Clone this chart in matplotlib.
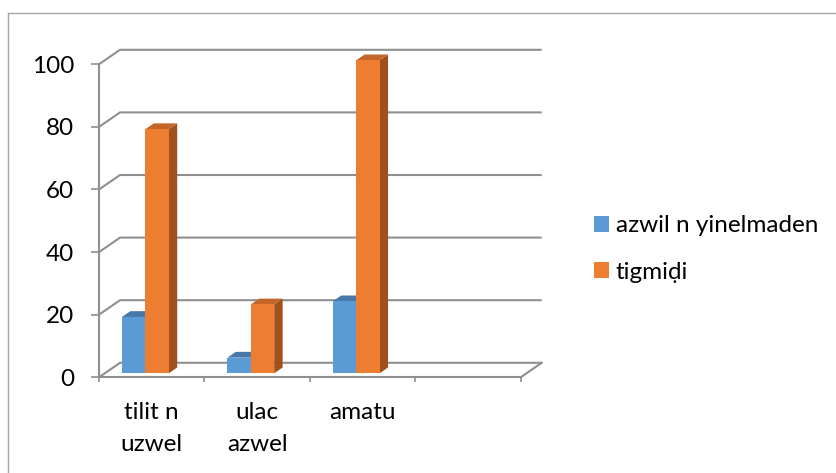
import matplotlib
matplotlib.use("Agg")
import matplotlib.pyplot as plt
from matplotlib.patches import Polygon, Patch
from matplotlib.lines import Line2D
from matplotlib.transforms import ScaledTranslation

categories = ["tilit n\nuzwel", "ulac\nazwel", "amatu", ""]
series_names = ["azwil n yinelmaden", "tigmiḍi"]
blue_values = [18, 5, 23]
orange_values = [78, 22, 100]
y_ticks = [0, 20, 40, 60, 80, 100]

front_colors = ["#5B9BD5", "#ED7D31"]
top_colors = ["#4778A8", "#C4652A"]
side_colors = ["#3D6893", "#A0501D"]

plt.rcParams['font.family'] = ['Lato', 'DejaVu Sans']
FS = 17.5

W, H = 837, 473
fig = plt.figure(figsize=(W / 100, H / 100), dpi=100)
fig.patch.set_facecolor("white")

# axes: front plane
x0p, x1p = 99, 520.7
y0p, y100p = 377.3, 64.3
ax = fig.add_axes([x0p / W, 1 - y0p / H, (x1p - x0p) / W, (y0p - y100p) / H])
ax.set_xlim(0, 4)
ax.set_ylim(0, 100)
ax.patch.set_alpha(0)
for s in ["top", "right"]:
    ax.spines[s].set_visible(False)
grid_col = "#8F8F8F"
ax.spines["left"].set_color(grid_col)
ax.spines["bottom"].set_color(grid_col)
ax.spines["left"].set_linewidth(1.5)
ax.spines["bottom"].set_linewidth(1.5)

ppu_x = (x1p - x0p) / 4.0
ppu_y = (y0p - y100p) / 100.0

# depth offsets (pixels)
DX, DY = 21.0, 14.5

def off(frac):
    return DX * frac / ppu_x, DY * frac / ppu_y

# back wall gridlines + side wall diagonals
bx, by = off(1.0)
for v in y_ticks:
    ax.plot([0, bx, 4 + bx], [v, v + by, v + by], color=grid_col, lw=1.5,
            solid_capstyle="butt", clip_on=False, zorder=1)
# floor right diagonal
ax.plot([4, 4 + bx], [0, by], color=grid_col, lw=1.5, clip_on=False, zorder=1)

# ticks
ax.set_yticks(y_ticks)
ax.tick_params(axis="y", direction="out", length=5.8, width=1.2, color=grid_col,
               labelsize=FS, pad=12, labelcolor="#000000")
ax.set_xticks([0, 1, 2, 3, 4])
ax.set_xticklabels([])
ax.tick_params(axis="x", which="major", direction="out", length=3.6, width=1.2,
               color=grid_col)
ax.set_xticks([0.5, 1.5, 2.5, 3.5], minor=True)
ax.set_xticklabels(categories, minor=True, fontsize=FS, linespacing=1.62)
ax.tick_params(axis="x", which="minor", length=0, pad=18)

# 3D-ish bars
d0, d1 = 0.276, 0.676
w = 0.222
start = 0.163
ox0, oy0 = off(d0)
ox1, oy1 = off(d1)

for ci in range(len(blue_values)):
    for si, vals in enumerate([blue_values, orange_values]):
        v = vals[ci]
        xl = ci + start + si * w
        xr = xl + w
        side = Polygon([(xr + ox0, oy0), (xr + ox1, oy1), (xr + ox1, v + oy1), (xr + ox0, v + oy0)],
                       closed=True, facecolor=side_colors[si], edgecolor="none",
                       zorder=3 + ci, clip_on=False)
        ax.add_patch(side)
        top = Polygon([(xl + ox0, v + oy0), (xr + ox0, v + oy0), (xr + ox1, v + oy1), (xl + ox1, v + oy1)],
                      closed=True, facecolor=top_colors[si], edgecolor="none",
                      zorder=3 + ci, clip_on=False)
        ax.add_patch(top)

for si, vals in enumerate([blue_values, orange_values]):
    xs = [ci + start + si * w for ci in range(len(vals))]
    tr = ax.transData + ScaledTranslation(DX * d0 / 100, DY * d0 / 100, fig.dpi_scale_trans)
    ax.bar(xs, vals, width=w, align="edge", color=front_colors[si],
           transform=tr, zorder=10, label=series_names[si], clip_on=False)

# legend
fig.legend(handles=[Patch(facecolor=c, edgecolor="none") for c in front_colors],
           labels=series_names, loc="center left",
           bbox_to_anchor=(594 / W, 1 - 249 / H), frameon=False,
           fontsize=FS, handlelength=0.62, handleheight=0.62,
           handletextpad=0.28, labelspacing=1.05, borderpad=0, borderaxespad=0)

# chart border
bcol = "#A6A6A6"
fig.add_artist(Line2D([8 / W, 8 / W], [0, 1 - 13 / H], color=bcol, lw=1.0, transform=fig.transFigure))
fig.add_artist(Line2D([8 / W, 836 / W], [1 - 13 / H, 1 - 13 / H], color=bcol, lw=1.0, transform=fig.transFigure))

fig.savefig("out.png", dpi=100, facecolor="white")
